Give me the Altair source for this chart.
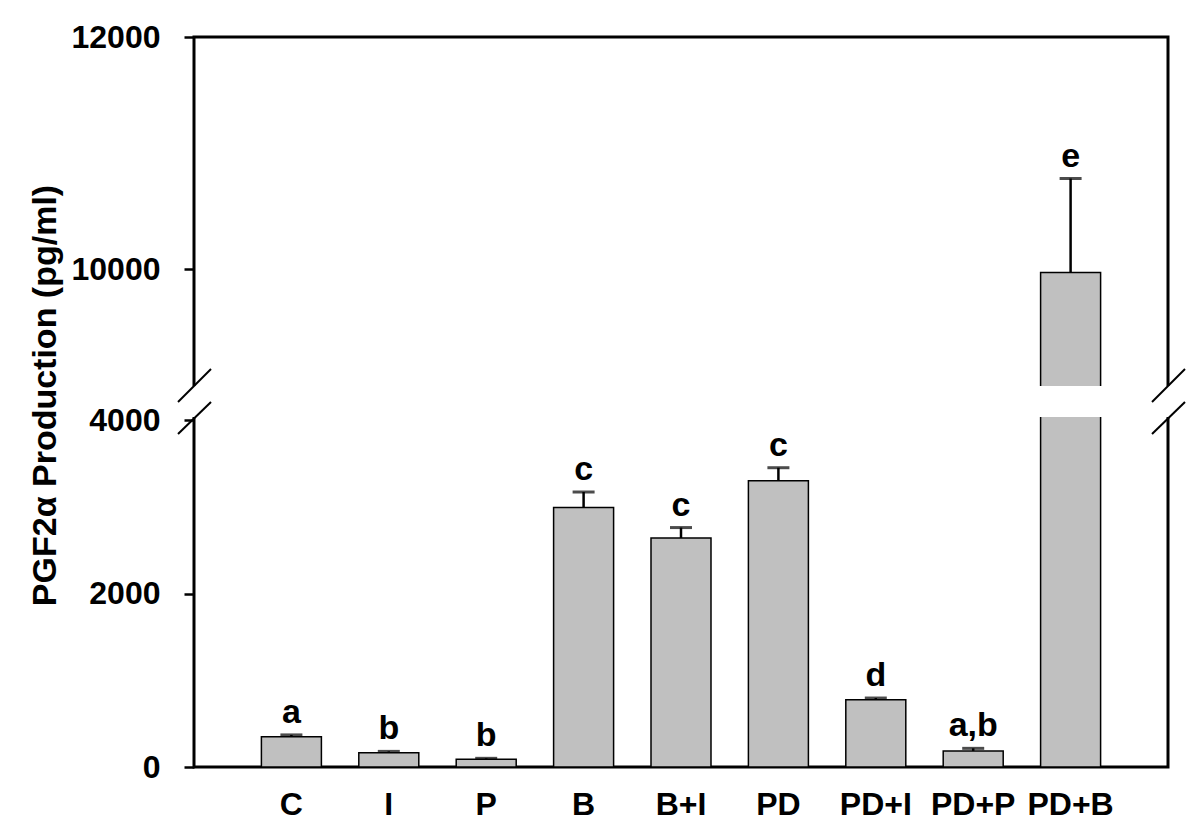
import altair as alt
import pandas as pd

categories = ["C", "I", "P", "B", "B+I", "PD", "PD+I", "PD+P", "PD+B"]
means = [350, 165, 90, 2990, 2640, 3300, 775, 185, 9970]
errors = [20, 15, 10, 180, 120, 150, 20, 30, 810]
letters = ["a", "b", "b", "c", "c", "c", "d", "a,b", "e"]
y_ticks = [0, 2000, 4000, 10000, 12000]

df = pd.DataFrame({"cat": categories, "mean": means, "err": errors, "letter": letters})
df["top"] = df["mean"] + df["err"]

FONT = "Liberation Sans"
W, H = 974, 730

xenc = alt.X("cat:N", sort=categories,
             scale=alt.Scale(paddingInner=0.384, paddingOuter=0.692),
             axis=alt.Axis(title=None, domain=False, ticks=False, tickSize=0,
                           labelAngle=0, labelFontSize=32, labelFontWeight="bold",
                           labelFont=FONT, labelColor="black", labelPadding=22))

yscale = alt.Scale(domain=[0, 4000, 9000, 12000], range=[730, 383, 348, 0],
                   zero=False, nice=False)

base = alt.Chart(df)

bars = base.mark_bar(fill="#c0c0c0", stroke="black", strokeWidth=1.5).encode(
    x=xenc,
    y=alt.Y("mean:Q", scale=yscale,
            axis=alt.Axis(values=y_ticks, format="d", domain=False, grid=False,
                          tickSize=10, tickWidth=2.5, tickColor="black",
                          labelFontSize=32, labelFontWeight="bold", labelFont=FONT,
                          labelColor="black", labelPadding=24,
                          title="PGF2\u03b1 Production (pg/ml)",
                          titleFont=FONT, titleFontSize=34, titleFontWeight="bold",
                          titleColor="black", titleAngle=270, titleX=-139, titleY=358,
                          titleAlign="center", titleBaseline="alphabetic")),
)

err_rule = base.mark_rule(color="black", strokeWidth=2.5).encode(
    x=alt.X("cat:N", sort=categories), y=alt.Y("mean:Q", scale=yscale), y2="top:Q")

caps = base.mark_tick(color="black", orient="horizontal", size=22, thickness=3).encode(
    x=alt.X("cat:N", sort=categories), y=alt.Y("top:Q", scale=yscale))

labels = base.mark_text(font=FONT, fontSize=34, fontWeight="bold", color="black",
                        baseline="alphabetic", dy=-12).encode(
    x=alt.X("cat:N", sort=categories), y=alt.Y("top:Q", scale=yscale), text="letter:N")

one = alt.Data(values=[{"k": 1}])

gap = alt.Chart(one).mark_rect(color="white").encode(
    x=alt.value(-8), x2=alt.value(W + 8), y=alt.value(349), y2=alt.value(380))

def slash(x1, y1, x2, y2):
    return alt.Chart(one).mark_rule(color="black", strokeWidth=2).encode(
        x=alt.value(x1), y=alt.value(y1), x2=alt.value(x2), y2=alt.value(y2))

slashes = [
    slash(-16, 397, 17, 365), slash(-16, 365, 17, 332),
    slash(W - 16, 397, W + 17, 365), slash(W - 16, 365, W + 17, 332),
]

chart = alt.layer(bars, err_rule, caps, labels, gap, *slashes).properties(
    width=W, height=H,
    autosize=alt.AutoSizeParams(type="none"),
    padding={"left": 186, "top": 29, "right": 24, "bottom": 54},
).configure(background="white").configure_view(stroke="black", strokeWidth=3)

chart.save("out.html", embed_options={"renderer": "svg", "actions": False})
